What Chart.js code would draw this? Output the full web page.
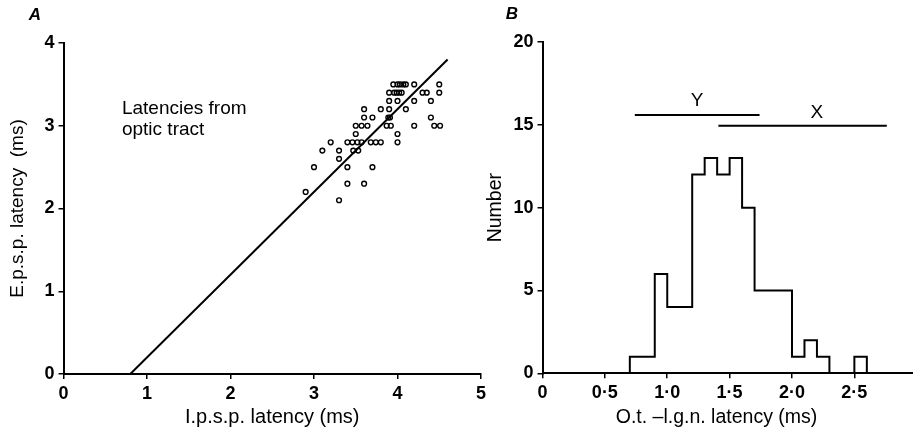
<!DOCTYPE html>
<html>
<head>
<meta charset="utf-8">
<script src="https://cdn.jsdelivr.net/npm/chart.js@4.4.1/dist/chart.umd.min.js"></script>
<style>
  html, body { margin: 0; padding: 0; background: #fff; overflow: hidden; }
  #wrapA { position: absolute; left: 0; top: 0; width: 500px; height: 430px; }
  #wrapB { position: absolute; left: 470px; top: 0; width: 443px; height: 430px; }
</style>
</head>
<body>
<div id="wrapA"><canvas id="chartA"></canvas></div>
<div id="wrapB"><canvas id="chartB"></canvas></div>
<script>
// Panel A: i.p.s.p. vs e.p.s.p. latency (ms)
const ipspLatency = [
  3.95, 4.0, 4.03, 4.07, 4.1, 4.2, 4.5,
  3.9, 3.96, 3.99, 4.02, 4.05, 4.3, 4.35, 4.5,
  3.9, 4.0, 4.2, 4.4,
  3.6, 3.8, 3.9, 4.1,
  3.6, 3.7, 3.89, 3.91, 4.4,
  3.5, 3.57, 3.64, 3.87, 3.92, 4.2, 4.44, 4.51,
  3.5, 4.0,
  3.2, 3.4, 3.46, 3.52, 3.57, 3.68, 3.74, 3.8, 4.0,
  3.1, 3.3, 3.47, 3.53,
  3.3,
  3.0, 3.4, 3.7,
  3.4, 3.6,
  2.9,
  3.3
];
const epspLatency = [
  3.5, 3.5, 3.5, 3.5, 3.5, 3.5, 3.5,
  3.4, 3.4, 3.4, 3.4, 3.4, 3.4, 3.4, 3.4,
  3.3, 3.3, 3.3, 3.3,
  3.2, 3.2, 3.2, 3.2,
  3.1, 3.1, 3.1, 3.1, 3.1,
  3.0, 3.0, 3.0, 3.0, 3.0, 3.0, 3.0, 3.0,
  2.9, 2.9,
  2.8, 2.8, 2.8, 2.8, 2.8, 2.8, 2.8, 2.8, 2.8,
  2.7, 2.7, 2.7, 2.7,
  2.6,
  2.5, 2.5, 2.5,
  2.3, 2.3,
  2.2,
  2.1
];
// fitted line end points
const fitX = [0.8, 4.6];
const fitY = [0.0, 3.8];
const ticksA_x = [0, 1, 2, 3, 4, 5];
const ticksA_y = [0, 1, 2, 3, 4];

// Panel B: histogram of O.t.-l.g.n. latency, 0.1 ms bins
const binStart = [0.7, 0.8, 0.9, 1.0, 1.1, 1.2, 1.3, 1.4, 1.5, 1.6, 1.7, 1.8, 1.9, 2.0, 2.1, 2.2, 2.3, 2.4, 2.5];
const binCount = [1, 1, 6, 4, 4, 12, 13, 12, 13, 10, 5, 5, 5, 1, 2, 1, 0, 0, 1];
const binWidth = 0.1;
const ticksB_x = [0, 0.5, 1.0, 1.5, 2.0, 2.5];
const ticksB_y = [0, 5, 10, 15, 20];
// Y and X cell latency ranges
const yRange = [0.74, 1.74];
const yRangeLevel = 15.6;
const xRange = [1.41, 2.76];
const xRangeLevel = 14.95;

const FAMILY = "'Liberation Sans', Arial, sans-serif";
const tickFont = { family: FAMILY, size: 18, weight: 'bold' };

function textPlugin(items) {
  return {
    id: 'freeText',
    afterDraw(chart) {
      const ctx = chart.ctx;
      ctx.save();
      ctx.fillStyle = '#000';
      ctx.textBaseline = 'middle';
      items.forEach(t => {
        let x = t.x, y = t.y;
        if (t.data) {
          x = chart.scales.x.getPixelForValue(t.x);
          y = chart.scales.y.getPixelForValue(t.y);
        }
        ctx.font = t.font;
        ctx.textAlign = t.align || 'left';
        ctx.fillText(t.text, x, y);
      });
      ctx.restore();
    }
  };
}

function axisOpts(min, max, tickList, fmt, extra) {
  return Object.assign({
    type: 'linear',
    min: min,
    max: max,
    afterBuildTicks: s => { s.ticks = tickList.map(v => ({ value: v })); },
    ticks: { color: '#000', font: tickFont, padding: 4, callback: fmt },
    grid: { display: true, drawOnChartArea: false, drawTicks: true, tickLength: 5, color: '#000', lineWidth: 1.5 },
    border: { display: true, color: '#000', width: 2 }
  }, extra);
}

Chart.defaults.animation = false;

// ---- Panel A
new Chart(document.getElementById('chartA'), {
  type: 'scatter',
  data: {
    datasets: [{
      data: ipspLatency.map((x, i) => ({ x: x, y: epspLatency[i] })),
      pointStyle: 'circle',
      pointRadius: 2.4,
      pointBorderWidth: 1.4,
      borderColor: '#000',
      backgroundColor: 'rgba(0,0,0,0)'
    }, {
      data: fitX.map((x, i) => ({ x: x, y: fitY[i] })),
      showLine: true,
      pointRadius: 0,
      borderColor: '#000',
      borderWidth: 2
    }]
  },
  options: {
    responsive: true,
    maintainAspectRatio: false,
    layout: { padding: { top: 43, right: 19, left: 0, bottom: 0 } },
    plugins: { legend: { display: false }, tooltip: { enabled: false } },
    scales: {
      x: axisOpts(0, 5, ticksA_x, v => String(v), {
        afterFit: s => { s.height = 56; },
        title: { display: true, text: 'I.p.s.p. latency (ms)', color: '#000', font: { family: FAMILY, size: 20 }, padding: { top: 0, bottom: 1 } }
      }),
      y: axisOpts(0, 4, ticksA_y, v => String(v), {
        afterFit: s => { s.width = 63.5; },
        title: { display: true, text: 'E.p.s.p. latency  (ms)', color: '#000', font: { family: FAMILY, size: 19 }, padding: { top: 6, bottom: 0 } }
      })
    }
  },
  plugins: [textPlugin([
    { text: 'A', x: 35, y: 15, align: 'center', font: "italic bold 17px " + FAMILY },
    { text: 'Latencies from', x: 0.7, y: 3.21, data: true, font: "19px " + FAMILY },
    { text: 'optic tract', x: 0.7, y: 2.95, data: true, font: "19px " + FAMILY }
  ])]
});

// ---- Panel B
const histPoints = [{ x: binStart[0], y: 0 }]
  .concat(binStart.map((b, i) => ({ x: b, y: binCount[i] })))
  .concat([{ x: binStart[binStart.length - 1] + binWidth, y: 0 }]);

const fmtB = v => v === 0 ? '0' : v.toFixed(1).replace('.', '\u00b7');

new Chart(document.getElementById('chartB'), {
  type: 'scatter',
  data: {
    datasets: [{
      data: histPoints,
      showLine: true,
      stepped: 'before',
      pointRadius: 0,
      borderColor: '#000',
      borderWidth: 2
    }, {
      data: yRange.map(x => ({ x: x, y: yRangeLevel })),
      showLine: true,
      pointRadius: 0,
      borderColor: '#000',
      borderWidth: 2
    }, {
      data: xRange.map(x => ({ x: x, y: xRangeLevel })),
      showLine: true,
      pointRadius: 0,
      borderColor: '#000',
      borderWidth: 2
    }]
  },
  options: {
    responsive: true,
    maintainAspectRatio: false,
    layout: { padding: { top: 42, right: 0, left: 0, bottom: 0 } },
    plugins: { legend: { display: false }, tooltip: { enabled: false } },
    scales: {
      x: axisOpts(0, 2.97, ticksB_x, fmtB, {
        afterFit: s => { s.height = 56.7; }
      }),
      y: axisOpts(0, 20, ticksB_y, v => String(v), {
        afterFit: s => { s.width = 72.5; },
        title: { display: true, text: 'Number', color: '#000', font: { family: FAMILY, size: 19.5 }, padding: { top: 14, bottom: 0 } }
      })
    }
  },
  plugins: [textPlugin([
    { text: 'B', x: 42, y: 14, align: 'center', font: "italic bold 17px " + FAMILY },
    { text: 'Y', x: 1.24, y: 16.45, data: true, align: 'center', font: "19px " + FAMILY },
    { text: 'X', x: 2.2, y: 15.75, data: true, align: 'center', font: "19px " + FAMILY },
    { text: 'O.t. \u2013l.g.n. latency (ms)', x: 246.5, y: 418, align: 'center', font: "19.5px " + FAMILY }
  ])]
});
</script>
</body>
</html>
